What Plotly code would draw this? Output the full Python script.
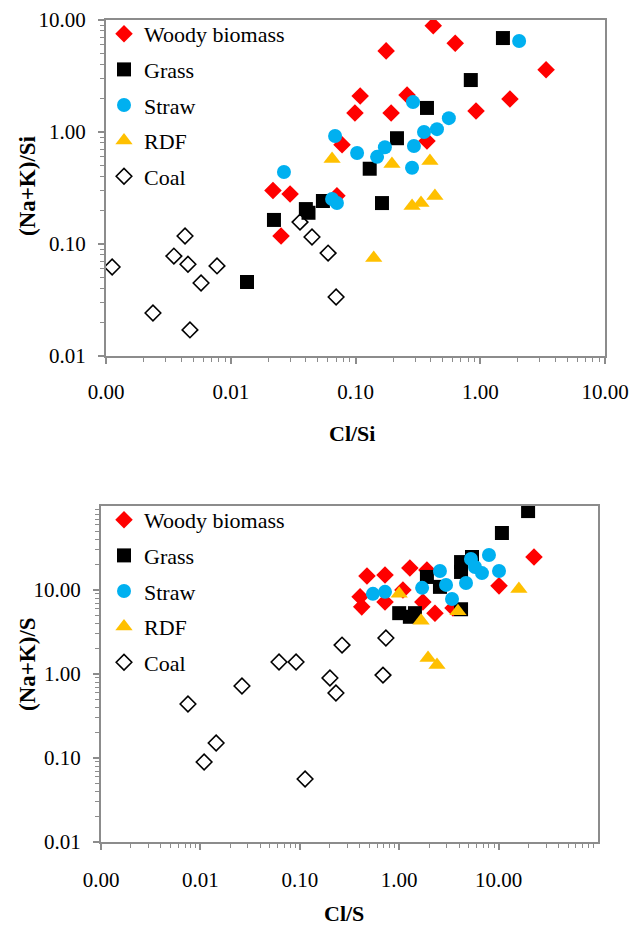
import plotly.graph_objects as go

# ---------------- Data: top chart (Cl/Si vs (Na+K)/Si) ----------------
woody_si_x = [0.42, 0.63, 0.176, 3.37, 0.109, 0.259, 1.73, 0.099, 0.193, 0.925, 0.078, 0.374, 0.071, 0.0218, 0.0299, 0.0253]
woody_si_y = [8.9, 6.2, 5.3, 3.6, 2.1, 2.14, 1.97, 1.48, 1.48, 1.54, 0.77, 0.83, 0.27, 0.30, 0.28, 0.118]

grass_si_x = [1.52, 0.84, 0.374, 0.215, 0.13, 0.0548, 0.163, 0.040, 0.042, 0.0222, 0.0135]
grass_si_y = [6.9, 2.91, 1.64, 0.88, 0.47, 0.242, 0.232, 0.205, 0.19, 0.164, 0.0458]

straw_si_x = [2.05, 0.289, 0.56, 0.45, 0.354, 0.0686, 0.294, 0.172, 0.103, 0.149, 0.284, 0.0267, 0.0649, 0.071]
straw_si_y = [6.5, 1.85, 1.33, 1.06, 1.0, 0.92, 0.75, 0.73, 0.65, 0.60, 0.48, 0.44, 0.252, 0.232]

rdf_si_x = [0.0649, 0.196, 0.395, 0.433, 0.335, 0.284, 0.14]
rdf_si_y = [0.574, 0.518, 0.55, 0.268, 0.232, 0.218, 0.075]

coal_si_x = [0.00112, 0.00238, 0.0035, 0.0043, 0.00454, 0.00578, 0.00471, 0.00776, 0.0359, 0.0448, 0.0603, 0.0699]
coal_si_y = [0.0623, 0.0242, 0.078, 0.118, 0.066, 0.0449, 0.0171, 0.0637, 0.157, 0.1155, 0.083, 0.0336]

# ---------------- Data: bottom chart (Cl/S vs (Na+K)/S) ----------------
woody_s_x = [22.7, 10.1, 0.474, 0.72, 1.28, 1.9, 0.404, 0.42, 0.72, 1.09, 1.73, 2.29, 3.48]
woody_s_y = [24.7, 11.2, 14.7, 15.1, 18.3, 17.3, 8.3, 6.3, 7.2, 10.0, 7.2, 5.3, 6.1]

grass_s_x = [19.8, 10.8, 5.4, 4.19, 4.19, 1.9, 2.57, 1.0, 1.28, 1.44, 4.19]
grass_s_y = [87, 47.7, 24.7, 21.5, 16.4, 14.3, 10.9, 5.3, 4.8, 5.3, 5.9]

straw_s_x = [8.0, 10.1, 5.27, 5.79, 6.8, 2.57, 4.7, 2.96, 1.7, 3.4, 0.544, 0.72]
straw_s_y = [26.1, 16.8, 23.4, 18.8, 15.9, 16.8, 12.1, 11.5, 10.6, 7.8, 9.0, 9.5]

rdf_s_x = [16.0, 1.0, 1.66, 3.9, 1.95, 2.4]
rdf_s_y = [10.3, 9.0, 4.3, 5.6, 1.55, 1.28]

coal_s_x = [0.0075, 0.0144, 0.0109, 0.0262, 0.0618, 0.0917, 0.113, 0.201, 0.231, 0.266, 0.687, 0.735]
coal_s_y = [0.44, 0.151, 0.0896, 0.72, 1.39, 1.39, 0.0562, 0.895, 0.594, 2.21, 0.97, 2.68]

series_names = ["Woody biomass", "Grass", "Straw", "RDF", "Coal"]
tick_vals = [0.001, 0.01, 0.1, 1, 10]
tick_text = ["0.00", "0.01", "0.10", "1.00", "10.00"]
y_tick_vals = [0.01, 0.1, 1, 10]
y_tick_text = ["0.01", "0.10", "1.00", "10.00"]

W, H = 633, 927
SERIF = "Liberation Serif"
AXC = "#8c8c8c"

styles = [
    dict(symbol="diamond", size=13.5, color="#FF0000"),
    dict(symbol="square", size=14, color="#000000"),
    dict(symbol="circle", size=14, color="#00B0F0"),
    dict(symbol="triangle-up", size=15, color="#FFC000"),
    dict(symbol="diamond-open", size=12, color="#000000", line=dict(width=1.6, color="#000000")),
]

top_data = [(woody_si_x, woody_si_y), (grass_si_x, grass_si_y), (straw_si_x, straw_si_y),
            (rdf_si_x, rdf_si_y), (coal_si_x, coal_si_y)]
bot_data = [(woody_s_x, woody_s_y), (grass_s_x, grass_s_y), (straw_s_x, straw_s_y),
            (rdf_s_x, rdf_s_y), (coal_s_x, coal_s_y)]

fig = go.Figure()
for i, (name, (x, y)) in enumerate(zip(series_names, top_data)):
    fig.add_trace(go.Scatter(x=x, y=y, mode="markers", name=name, marker=styles[i],
                             xaxis="x", yaxis="y", legend="legend", legendgroup="t" + str(i)))
for i, (name, (x, y)) in enumerate(zip(series_names, bot_data)):
    fig.add_trace(go.Scatter(x=x, y=y, mode="markers", name=name, marker=styles[i],
                             xaxis="x2", yaxis="y2", legend="legend2", legendgroup="b" + str(i)))


def minor_vals(lo, hi):
    out = []
    d = lo
    while d < hi:
        out += [d * k for k in range(2, 10)]
        d *= 10
    return out


def px_x(p):
    return p / W


def px_y(p):
    return 1 - p / H


common_axis = dict(type="log", showgrid=False, zeroline=False, showline=True, linecolor=AXC,
                   linewidth=2, mirror=True, ticks="outside", ticklen=6, tickwidth=1.5,
                   automargin=False,
                   tickcolor=AXC, tickfont=dict(family=SERIF, size=21, color="#000"))

title_font = dict(family=SERIF, size=22, color="#000")
ytitle_font = dict(family=SERIF, size=23, color="#000")

fig.update_layout(
    width=W, height=H, margin=dict(l=0, r=0, t=0, b=0, autoexpand=False),
    paper_bgcolor="white", plot_bgcolor="white", showlegend=True,
    font=dict(family=SERIF),
    xaxis=dict(common_axis, domain=[px_x(106), px_x(605)], range=[-3, 1], anchor="y",
               tickvals=tick_vals[:5], ticktext=tick_text[:5], ticklabelstandoff=10,
               minor=dict(tickmode="array", tickvals=minor_vals(0.001, 10), ticks="outside",
                          ticklen=4, tickcolor=AXC, tickwidth=1.2)),
    yaxis=dict(common_axis, domain=[px_y(356), px_y(20)], range=[-2, 1], anchor="x",
               tickvals=y_tick_vals, ticktext=y_tick_text, ticklabelstandoff=8,
               minor=dict(tickmode="array", tickvals=minor_vals(0.01, 10), ticks="outside",
                          ticklen=4, tickcolor=AXC, tickwidth=1.2)),
    xaxis2=dict(common_axis, domain=[px_x(101), px_x(598)], range=[-3, 2], anchor="y2",
                tickvals=tick_vals, ticktext=tick_text, ticklabelstandoff=12,
                minor=dict(tickmode="array", tickvals=minor_vals(0.001, 100), ticks="outside",
                           ticklen=4, tickcolor=AXC, tickwidth=1.2)),
    yaxis2=dict(common_axis, domain=[px_y(842), px_y(506)], range=[-2, 2], anchor="x2",
                tickvals=y_tick_vals, ticktext=y_tick_text, ticklabelstandoff=8,
                minor=dict(tickmode="array", tickvals=minor_vals(0.01, 100), ticks="outside",
                           ticklen=4, tickcolor=AXC, tickwidth=1.2)),
    legend=dict(x=px_x(104), y=px_y(13), xanchor="left", yanchor="top",
                bgcolor="rgba(0,0,0,0)", font=dict(family=SERIF, size=22, color="#000"),
                tracegroupgap=4, itemwidth=30),
    legend2=dict(x=px_x(104), y=px_y(499), xanchor="left", yanchor="top",
                 bgcolor="rgba(0,0,0,0)", font=dict(family=SERIF, size=22, color="#000"),
                 tracegroupgap=4, itemwidth=30),
    annotations=[
        dict(text="<b>Cl/Si</b>", x=px_x(352), y=px_y(433), xref="paper", yref="paper",
             xanchor="center", yanchor="middle", showarrow=False, font=title_font),
        dict(text="<b>Cl/S</b>", x=px_x(344), y=px_y(913), xref="paper", yref="paper",
             xanchor="center", yanchor="middle", showarrow=False, font=title_font),
        dict(text="<b>(Na+K)/Si</b>", x=px_x(27), y=px_y(186), xref="paper", yref="paper",
             xanchor="center", yanchor="middle", showarrow=False, textangle=-90,
             font=ytitle_font),
        dict(text="<b>(Na+K)/S</b>", x=px_x(27), y=px_y(664), xref="paper", yref="paper",
             xanchor="center", yanchor="middle", showarrow=False, textangle=-90,
             font=ytitle_font),
    ],
)

fig.write_html("out.html", config={"displayModeBar": False},
               post_script="document.body.style.margin='0px';")
